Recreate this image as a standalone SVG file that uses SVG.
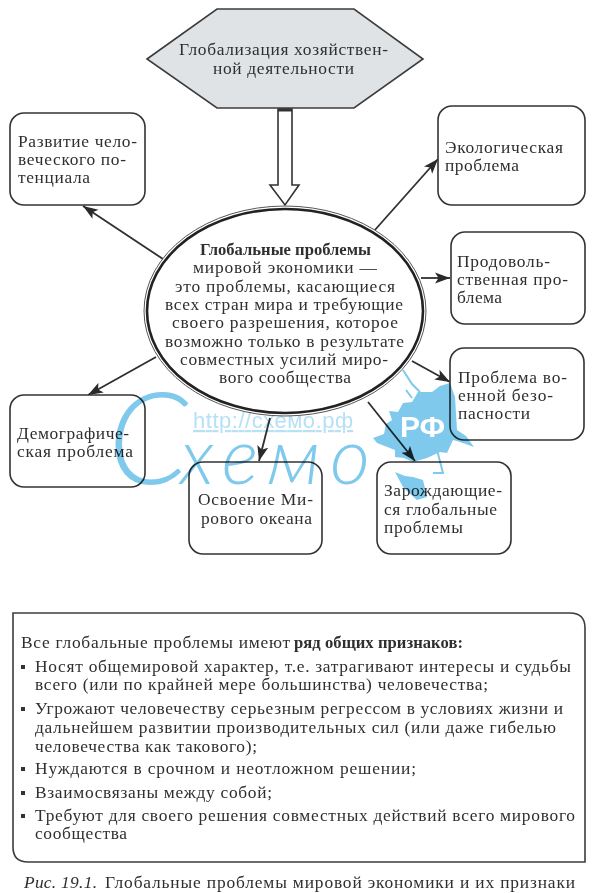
<svg xmlns="http://www.w3.org/2000/svg" width="600" height="893" viewBox="0 0 600 893">
<style>
text{font-family:"Liberation Serif","Times New Roman",serif;font-size:17.4px;fill:#2f2f2f}
.b{font-weight:bold;font-size:16.6px}
.i{font-style:italic}
.box{fill:#fff;stroke:#333;stroke-width:1.6}
.ln{fill:none;stroke:#2f2f2f;stroke-width:1.8;marker-end:url(#ah)}
.bul{fill:#333}
#wm{mix-blend-mode:multiply}
text.url{font-family:"Liberation Sans",Arial,sans-serif;font-size:22px;fill:#b7e1f5;text-decoration:underline}
text.big{font-family:"Lato","Liberation Sans",sans-serif;font-style:italic;font-weight:300;fill:#7fc9ec}
text.c1{font-size:128px}
text.c2{font-size:78px}
text.rf{font-family:"Liberation Sans",Arial,sans-serif;font-weight:bold;font-size:30px;fill:#fff}
</style>
<defs>
<marker id="ah" markerUnits="userSpaceOnUse" markerWidth="16" markerHeight="12" refX="15" refY="6" orient="auto">
<path d="M0,0.5 L15,6 L0,11.5 L3.5,6 Z" fill="#2a2a2a"/>
</marker>
</defs>
<rect width="600" height="893" fill="#fff"/>

<g id="connectors">
<polygon points="278,109 292,109 292,185 299,185 285,205 270,185 278,185" fill="#fff" stroke="#333" stroke-width="1.6"/>
<line x1="278" y1="110" x2="292" y2="110" stroke="#333" stroke-width="3"/>
<line class="ln" x1="163" y1="259" x2="83" y2="206"/>
<line class="ln" x1="374" y1="231" x2="438" y2="159"/>
<line class="ln" x1="421" y1="278" x2="450" y2="278"/>
<line class="ln" x1="412" y1="361" x2="450" y2="382"/>
<line class="ln" x1="368" y1="402" x2="415" y2="461"/>
<line class="ln" x1="270" y1="418" x2="259" y2="461"/>
<line class="ln" x1="156" y1="357" x2="88" y2="395"/>
</g>

<g id="n-global">
<polygon points="147,59 217,9 354,9 423,59 354,108 217,108" fill="#dfe3e6" stroke="#3c3c3c" stroke-width="1.6"/>
<text x="179" y="55" textLength="209">Глобализация хозяйствен-</text>
<text x="213" y="74" textLength="141">ной деятельности</text>
</g>

<g id="n-center">
<ellipse cx="285" cy="311" rx="141" ry="105" fill="#fff" stroke="#555" stroke-width="1"/>
<ellipse cx="285" cy="311" rx="138" ry="102" fill="#fff" stroke="#222" stroke-width="2.6"/>
<text class="b" x="200" y="255" textLength="171">Глобальные проблемы</text>
<text x="193" y="273" textLength="184">мировой экономики —</text>
<text x="175" y="292" textLength="220">это проблемы, касающиеся</text>
<text x="165" y="310" textLength="238">всех стран мира и требующие</text>
<text x="172" y="328" textLength="226">своего разрешения, которое</text>
<text x="165" y="347" textLength="239">возможно только в результате</text>
<text x="180" y="365" textLength="208">совместных усилий миро-</text>
<text x="219" y="383" textLength="132">вого сообщества</text>
</g>

<g id="n-human">
<rect class="box" x="10" y="113" width="135" height="92" rx="14"/>
<text x="18" y="147" textLength="119">Развитие чело-</text>
<text x="18" y="165" textLength="108">веческого по-</text>
<text x="18" y="183" textLength="72">тенциала</text>
</g>
<g id="n-eco">
<rect class="box" x="438" y="106" width="147" height="99" rx="14"/>
<text x="445" y="153" textLength="118">Экологическая</text>
<text x="445" y="171" textLength="74">проблема</text>
</g>
<g id="n-food">
<rect class="box" x="451" y="232" width="134" height="92" rx="14"/>
<text x="457" y="267" textLength="93">Продоволь-</text>
<text x="457" y="285" textLength="111">ственная про-</text>
<text x="457" y="303" textLength="45">блема</text>
</g>
<g id="n-war">
<rect class="box" x="450" y="348" width="134" height="92" rx="14"/>
<text x="458" y="383" textLength="109">Проблема во-</text>
<text x="458" y="401" textLength="95">енной безо-</text>
<text x="458" y="419" textLength="72">пасности</text>
</g>
<g id="n-emerging">
<rect class="box" x="377" y="462" width="134" height="92" rx="14"/>
<text x="384" y="496" textLength="118">Зарождающие-</text>
<text x="384" y="515" textLength="113">ся глобальные</text>
<text x="384" y="533" textLength="79">проблемы</text>
</g>
<g id="n-ocean">
<rect class="box" x="189" y="462" width="133" height="92" rx="14"/>
<text x="198" y="505" textLength="115">Освоение Ми-</text>
<text x="201" y="524" textLength="111">рового океана</text>
</g>
<g id="n-demo">
<rect class="box" x="10" y="395" width="135" height="92" rx="14"/>
<text x="17" y="439" textLength="112">Демографиче-</text>
<text x="17" y="457" textLength="116">ская проблема</text>
</g>

<g id="n-signs">
<path d="M13,613 H570 Q585,613 585,628 V862 H28 Q13,862 13,847 Z" fill="#fff" stroke="#3c3c3c" stroke-width="1.6"/>
<text x="21" y="648" textLength="269">Все глобальные проблемы имеют</text>
<text class="b" x="294" y="648" textLength="169">ряд общих признаков:</text>
<rect class="bul" x="21" y="665" width="4" height="4"/>
<text x="35" y="672" textLength="536">Носят общемировой характер, т.е. затрагивают интересы и судьбы</text>
<text x="35" y="690" textLength="453">всего (или по крайней мере большинства) человечества;</text>
<rect class="bul" x="21" y="707" width="4" height="4"/>
<text x="35" y="714" textLength="528">Угрожают человечеству серьезным регрессом в условиях жизни и</text>
<text x="35" y="733" textLength="521">дальнейшем развитии производительных сил (или даже гибелью</text>
<text x="35" y="752" textLength="222">человечества как такового);</text>
<rect class="bul" x="21" y="767" width="4" height="4"/>
<text x="35" y="774" textLength="381">Нуждаются в срочном и неотложном решении;</text>
<rect class="bul" x="21" y="791" width="4" height="4"/>
<text x="35" y="798" textLength="237">Взаимосвязаны между собой;</text>
<rect class="bul" x="21" y="814" width="4" height="4"/>
<text x="35" y="821" textLength="540">Требуют для своего решения совместных действий всего мирового</text>
<text x="35" y="839" textLength="92">сообщества</text>
</g>

<g id="caption">
<text class="i" x="24" y="888" textLength="73">Рис. 19.1.</text>
<text x="105" y="888" textLength="470">Глобальные проблемы мировой экономики и их признаки</text>
</g>

<g id="wm">
<text class="url" x="193" y="428" textLength="160">http://схемо.рф</text>
<text class="big c1" x="108" y="484" textLength="70">С</text>
<text class="big c2" x="180" y="484" textLength="190">хемо</text>
<path fill="#7fc9ec" d="M373,438 L384,434 L386,424 L392,420 L389,411 L398,412 L403,403 L412,402 L418,392 L432,392 L440,386 L450,383 L455,397 L457,430 L466,436 L474,447 L460,442 L453,440 L447,453 L440,452 L427,458 L413,462 L404,458 L395,457 L395,450 L377,443 Z"/>
<path fill="#7fc9ec" d="M395,472 L405,476 L413,477 L423,480 L427,497 L417,500 L409,493 L403,487 Z"/>
<path fill="none" stroke="#7fc9ec" stroke-width="2" d="M403,370 L412,384 L420,392 M437,450 L443,473 L433,473 M406,390 L412,398"/>
</g>
<text class="rf" x="400" y="437" textLength="45">РФ</text>
</svg>
